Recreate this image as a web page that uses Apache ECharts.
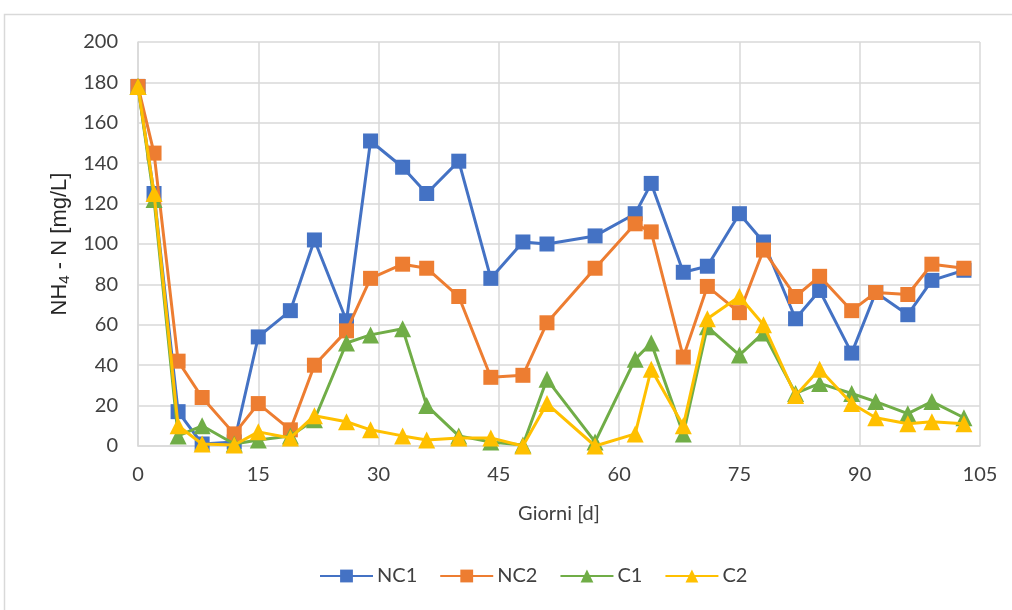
<!DOCTYPE html>
<html>
<head>
<meta charset="utf-8">
<script src="https://cdn.jsdelivr.net/npm/echarts@6/dist/echarts.min.js"></script>
<style>
html,body{margin:0;padding:0;background:#fff;}
#chart{width:1012px;height:610px;}
</style>
</head>
<body>
<div id="chart"></div>
<script>
const days = [0,2,5,8,12,15,19,22,26,29,33,36,40,44,48,51,57,62,64,68,71,75,78,82,85,89,92,96,99,103];
const NC1 = [178,125,17,1,2,54,67,102,62,151,138,125,141,83,101,100,104,115,130,86,89,115,101,63,77,46,76,65,82,87];
const NC2 = [178,145,42,24,6,21,8,40,57,83,90,88,74,34,35,61,88,110,106,44,79,66,97,74,84,67,76,75,90,88];
const C1  = [178,122,5,10,1,3,5,13,51,55,58,20,5,2,0.5,33,2,43,51,6,59,45,56,26,31,26,22,16,22,14];
const C2  = [178,125,10,1,0.5,7,4,15,12,8,5,3,4,4,0,21,0,6,38,10,63,74,60,25,38,21,14,11,12,11];
const seriesNames = ['NC1','NC2','C1','C2'];
const seriesData = [NC1, NC2, C1, C2];
const colors = ['#4472C4','#ED7D31','#70AD47','#FFC000'];
const symbols = ['rect','rect','triangle','triangle'];
const symbolSizes = [15,15,17,17];

const chart = echarts.init(document.getElementById('chart'), null, {renderer:'canvas'});
const font = 'Lato, "Open Sans", sans-serif';
const txt = '#404040';
const option = {
  animation:false,
  backgroundColor:'#fff',
  graphic:[{type:'rect', shape:{x:4.5,y:14.5,width:1100,height:800}, style:{fill:'none',stroke:'#d9d9d9',lineWidth:1.5}, silent:true}],
  grid:{left:138,right:32,top:42,bottom:164},
  legend:{
    bottom:19, left:314,
    itemWidth:53, itemHeight:16, itemGap:22,
    textStyle:{fontFamily:font,fontSize:20,color:txt,padding:[0,0,0,-1]},
    data:seriesNames
  },
  xAxis:{
    type:'value', min:0, max:105, interval:15,
    name:'Giorni [d]', nameLocation:'middle', nameGap:58,
    nameTextStyle:{fontFamily:font,fontSize:20,color:txt},
    axisLine:{show:true,lineStyle:{color:'#d9d9d9',width:1.5}},
    axisTick:{show:false},
    axisLabel:{fontFamily:font,fontSize:20,color:txt,margin:19},
    splitLine:{show:true,lineStyle:{color:'#d9d9d9',width:1.5}}
  },
  yAxis:{
    type:'value', min:0, max:200, interval:20,
    name:'{a|NH}{b|4}{a| - N [mg/L]}', nameLocation:'middle', nameGap:64,
    nameTextStyle:{rich:{
      a:{fontFamily:'"Liberation Sans", Arial, sans-serif',fontSize:22,color:'#262626'},
      b:{fontFamily:'"Liberation Sans", Arial, sans-serif',fontSize:15,color:'#262626',padding:[9,0,0,0]}
    }},
    axisLine:{show:true,lineStyle:{color:'#d9d9d9',width:1.5}},
    axisTick:{show:false},
    axisLabel:{fontFamily:font,fontSize:20,color:txt,margin:20},
    splitLine:{show:true,lineStyle:{color:'#d9d9d9',width:1.5}}
  },
  series: seriesNames.map((n,i)=>({
    name:n, type:'line',
    data: days.map((d,j)=>[d, seriesData[i][j]]),
    symbol:symbols[i], symbolSize:symbolSizes[i],
    showAllSymbol:true,
    lineStyle:{color:colors[i],width:3},
    itemStyle:{color:colors[i]},
    z:2+i
  }))
};
chart.setOption(option);
</script>
</body>
</html>
